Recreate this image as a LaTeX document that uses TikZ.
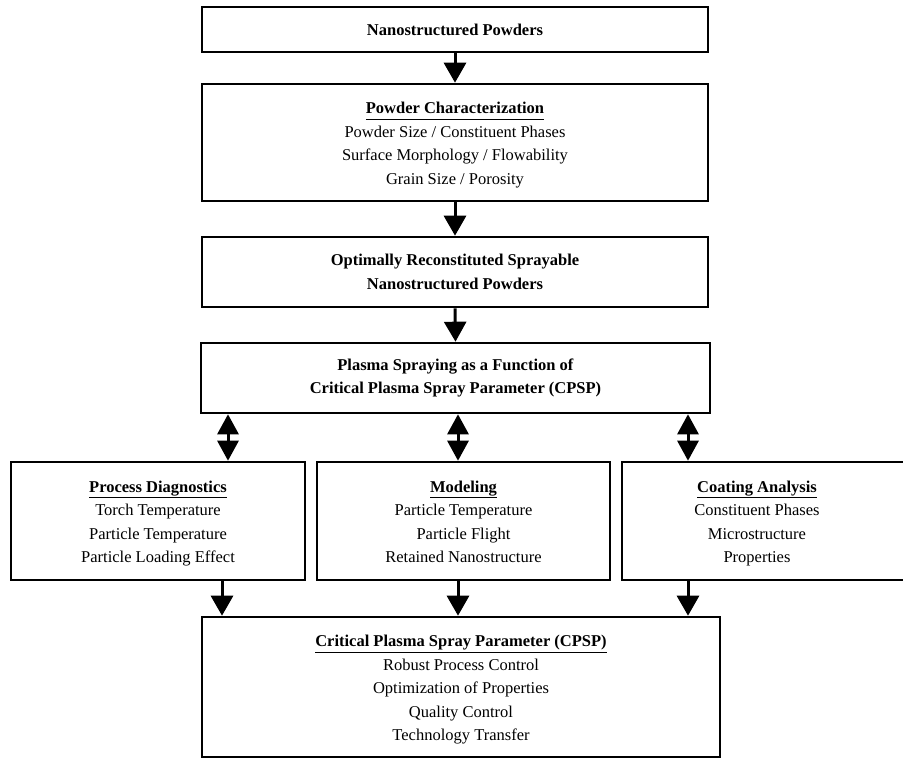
\documentclass[tikz,border=0pt]{standalone}
\usepackage{fontspec}
\setmainfont{Liberation Serif}
\usetikzlibrary{arrows.meta,calc}
\tikzset{
  box/.style={draw=black, line width=2.6pt, inner sep=0pt, align=center, font=\fontsize{16.5}{23.5}\selectfont},
  plain/.style={inner sep=0pt, align=center, font=\fontsize{16.5}{23.5}\selectfont},
  arr/.style={line width=3pt, -{Triangle[width=22pt,length=20pt]}},
  darr/.style={line width=3pt, {Triangle[width=21pt,length=20pt]}-{Triangle[width=21pt,length=20pt]}},
}
\newcommand{\ttl}[1]{\rule{0pt}{17pt}\smash{\textbf{\underline{\vphantom{Agy}#1}}}\vphantom{Agy}}
\begin{document}
\begin{tikzpicture}[x=1pt,y=-1pt]
\useasboundingbox (0,0) rectangle (903,760);
\clip (0,0) rectangle (903,760);
\node[box, minimum width=506pt, minimum height=45pt] (b1) at (455,29.5) {\textbf{Nanostructured Powders}};
\node[box, minimum width=506pt, minimum height=117pt] (b2) at (455,142.5) {\ttl{Powder Characterization}\\Powder Size / Constituent Phases\\Surface Morphology / Flowability\\Grain Size / Porosity};
\node[box, minimum width=506pt, minimum height=70pt] (b3) at (455,272) {\textbf{Optimally Reconstituted Sprayable}\\\textbf{Nanostructured Powders}};
\node[box, minimum width=509pt, minimum height=70pt] (b4) at (455.5,378) {\textbf{Plasma Spraying as a Function of}\\\textbf{Critical Plasma Spray Parameter (CPSP)}};
\node[box, minimum width=294pt, minimum height=118pt] (pd) at (158,521) {\ttl{Process Diagnostics}\\Torch Temperature\\Particle Temperature\\Particle Loading Effect};
\node[box, minimum width=293pt, minimum height=118pt] (mod) at (463.5,521) {\ttl{Modeling}\\Particle Temperature\\Particle Flight\\Retained Nanostructure\vphantom{g}};
\node[box, minimum width=284pt, minimum height=118pt] (coat) at (764,521) {};
\node[plain] (coattext) at (757,521) {\ttl{Coating Analysis}\\Constituent Phases\\Microstructure\\Properties};
\node[box, minimum width=518pt, minimum height=140pt] (bot) at (461,687) {\ttl{Critical Plasma Spray Parameter (CPSP)}\\Robust Process Control\\Optimization of Properties\\Quality Control\\Technology Transfer};
\draw[arr] (b1.south) -- (b2.north);
\draw[arr] (b2.south) -- (b3.north);
\draw[arr] (b3.south) -- (b4.north);
\draw[darr] ([xshift=70pt]pd.north |- b4.south) -- ([xshift=70pt]pd.north);
\draw[darr] ([xshift=-5.5pt]mod.north |- b4.south) -- ([xshift=-5.5pt]mod.north);
\draw[darr] ([xshift=-76pt]coat.north |- b4.south) -- ([xshift=-76pt]coat.north);
\draw[arr] ([xshift=64pt]pd.south) -- ([xshift=64pt]pd.south |- bot.north);
\draw[arr] ([xshift=-5.5pt]mod.south) -- ([xshift=-5.5pt]mod.south |- bot.north);
\draw[arr] ([xshift=-76pt]coat.south) -- ([xshift=-76pt]coat.south |- bot.north);
\end{tikzpicture}
\end{document}
